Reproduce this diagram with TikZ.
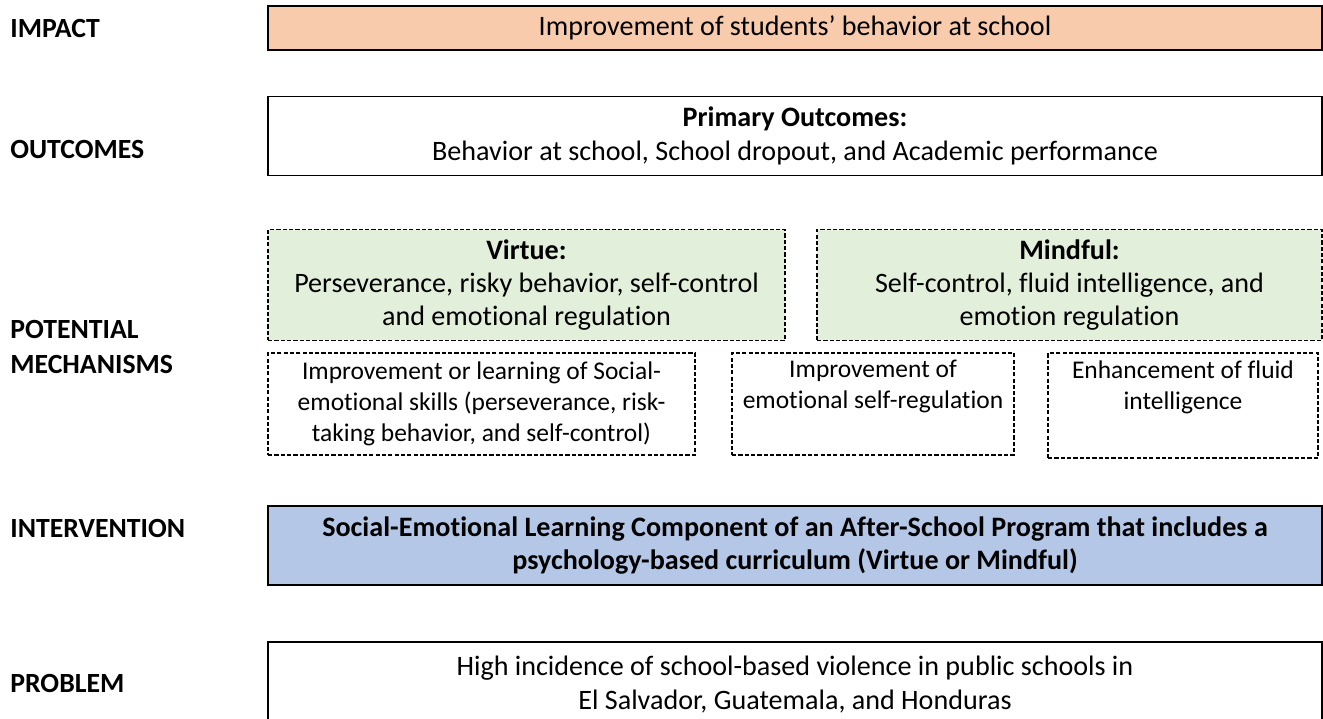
\documentclass[tikz,border=0pt]{standalone}
\usepackage{fontspec}
\setmainfont{Carlito}[Ligatures=NoCommon]
\definecolor{impactfill}{HTML}{F8CBAD}
\definecolor{mechfill}{HTML}{E2EFDA}
\definecolor{interfill}{HTML}{B4C7E7}
\begin{document}
\begin{tikzpicture}[x=0.02cm,y=-0.02cm,
  row label/.style={anchor=west,inner sep=0pt,font=\fontsize{15.8}{19.4}\selectfont\bfseries},
  main box/.style={draw,line width=0.7pt,align=center,inner sep=2pt,
    font=\fontsize{16}{19}\selectfont},
  curr box/.style={main box,fill=mechfill,dash pattern=on 2.4pt off 1.2pt},
  mech box/.style={draw,line width=0.7pt,dash pattern=on 2.4pt off 1.2pt,align=center,
    inner sep=2pt,font=\fontsize{14.5}{17.6}\selectfont}]

  \useasboundingbox (0,0) rectangle (1323,719);

  % labels on the left
  \node[row label] (impactlab) at (10,28) {IMPACT};
  \node[row label] (outlab) at (10,150) {OUTCOMES};
  \node[row label,align=left] (mechlab) at (10,347) {POTENTIAL\\MECHANISMS};
  \node[row label] (interlab) at (10,528) {INTERVENTION};
  \node[row label] (problab) at (10,683) {PROBLEM};

  % boxes
  \node[main box,fill=impactfill,minimum width=21.08cm,minimum height=0.88cm] (impact)
    at (795,28) {Improvement of students’ behavior at school};
  \node[main box,minimum width=21.08cm,minimum height=1.58cm] (outcomes)
    at (795,136) {\textbf{Primary Outcomes:}\\Behavior at school, School dropout, and Academic performance};

  \node[curr box,minimum width=10.34cm,minimum height=2.22cm] (virtue)
    at (526.5,285) {\textbf{Virtue:}\\Perseverance, risky behavior, self-control\\and emotional regulation};
  \node[curr box,minimum width=10.10cm,minimum height=2.22cm] (mindful)
    at (1069.5,285) {\textbf{Mindful:}\\Self-control, fluid intelligence, and\\emotion regulation};

  \node[mech box,minimum width=8.54cm,minimum height=2.04cm] (skills)
    at (481.5,404) {Improvement or learning of Social-\\emotional skills (perseverance, risk-\\taking behavior, and self-control)};
  \node[mech box,minimum width=5.64cm,minimum height=2.04cm] (selfreg)
    at (873,404) {Improvement of\\emotional self-regulation\\\strut};
  \node[mech box,minimum width=5.40cm,minimum height=2.10cm] (fluid)
    at (1183,405.5) {Enhancement of fluid\\intelligence\\\strut};

  \node[main box,fill=interfill,minimum width=21.08cm,minimum height=1.58cm,font=\fontsize{16}{19}\selectfont\bfseries] (intervention)
    at (795,545.5) {Social-Emotional Learning Component of an After-School Program that includes a\\psychology-based curriculum (Virtue or Mindful)};

  \node[main box,minimum width=21.08cm,minimum height=1.70cm] (problem)
    at (795,684.5) {High incidence of school-based violence in public schools in\\El Salvador, Guatemala, and Honduras};
\end{tikzpicture}
\end{document}
